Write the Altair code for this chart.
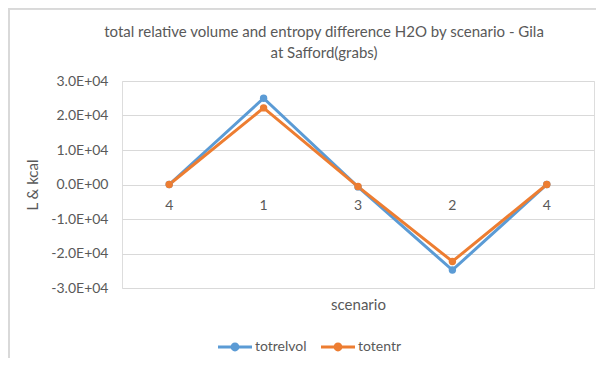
import altair as alt
import pandas as pd

# ---- data ----
scenarios = ["4", "1", "3", "2", "4"]
totrelvol = [0, 25000, -700, -24800, 0]
totentr = [0, 22200, -600, -22300, 0]
series_names = ["totrelvol", "totentr"]
series_colors = ["#5B9BD5", "#ED7D31"]
y_ticks = [-30000, -20000, -10000, 0, 10000, 20000, 30000]
title_lines = [
    "total relative volume and entropy difference H2O by scenario - Gila",
    "at Safford(grabs)",
]
y_title = "L & kcal"
x_title = "scenario"

FONT = "Lato"
TXT = "#595959"
GRID = "#D9D9D9"

rows = []
for name, vals in zip(series_names, [totrelvol, totentr]):
    for i, (s, v) in enumerate(zip(scenarios, vals)):
        rows.append({"idx": i, "scenario": s, "series": name, "value": v})
df = pd.DataFrame(rows)
cats = pd.DataFrame({"idx": list(range(len(scenarios))), "scenario": scenarios})

x_scale = alt.Scale(domain=[-0.5, len(scenarios) - 0.5], nice=False, zero=False)
x_enc = alt.X(
    "idx:Q",
    scale=x_scale,
    axis=alt.Axis(
        title=x_title, labels=False, ticks=False, domain=False, grid=False,
        titlePadding=9, titleFontSize=15, titleColor=TXT, titleFont=FONT,
        titleFontWeight="normal",
    ),
)
y_enc = alt.Y(
    "value:Q",
    scale=alt.Scale(domain=[y_ticks[0], y_ticks[-1]], nice=False),
    axis=alt.Axis(
        values=y_ticks,
        tickCount=len(y_ticks),
        labelExpr="(datum.value < 0 ? '-' : '') + format(abs(datum.value)/10000, '.1f') + 'E+' + (datum.value == 0 ? '00' : '04')",
        labelOverlap=False,
        grid=True, gridColor=GRID, gridWidth=1, domain=False, ticks=False,
        labelPadding=14, labelFontSize=14, labelColor=TXT, labelFont=FONT,
        title=y_title, titleFontSize=15, titleColor=TXT, titleFont=FONT,
        titleFontWeight="normal", titlePadding=10,
    ),
)
color_scale = alt.Scale(domain=series_names, range=series_colors)

base = alt.Chart(df)
lines = [
    base.transform_filter(alt.datum.series == name)
    .mark_line(strokeWidth=3, color=col)
    .encode(x=x_enc, y=y_enc)
    for name, col in zip(series_names, series_colors)
]

legend_symbol = (
    "M-1,-0.09 L1,-0.09 L1,0.09 L-1,0.09 Z "
    "M-0.26,0 A0.26,0.26 0 1,1 0.26,0 A0.26,0.26 0 1,1 -0.26,0 Z"
)
points = base.mark_point(filled=True, size=55, opacity=1).encode(
    x=x_enc,
    y=y_enc,
    color=alt.Color(
        "series:N",
        scale=color_scale,
        sort=series_names,
        legend=alt.Legend(
            title=None, orient="none", direction="horizontal",
            legendX=96, legendY=249,
            symbolType=legend_symbol, symbolSize=1156, symbolStrokeWidth=0,
            symbolOpacity=1, labelFontSize=14, labelColor=TXT, labelFont=FONT,
            labelOffset=3, columnPadding=14, padding=0,
        ),
    ),
    order=alt.Order("idx:Q"),
)

xlabels = alt.Chart(cats).mark_text(
    fontSize=14, color=TXT, font=FONT, dy=21, baseline="middle"
).encode(x=alt.X("idx:Q", scale=x_scale), y=alt.datum(0), text="scenario:N")

# light chart-area frame (left and top edges, as in the reference)
border_l = alt.Chart(cats).mark_rule(color=GRID, strokeWidth=1.5).encode(
    x=alt.value(-113.2), y=alt.value(-73), y2=alt.value(277)
)
border_t = alt.Chart(cats).mark_rule(color=GRID, strokeWidth=1.5).encode(
    x=alt.value(-114), x2=alt.value(474), y=alt.value(-72.2)
)

chart = (
    alt.layer(border_l, border_t, *lines, points, xlabels)
    .properties(
        width=472,
        height=207,
        autosize=alt.AutoSizeParams(type="none"),
        padding={"left": 114, "top": 73, "right": 2, "bottom": 70},
        title=alt.TitleParams(
            title_lines, fontSize=15, font=FONT, color=TXT, fontWeight="normal",
            anchor="middle", dx=-34, offset=-54, lineHeight=21,
        ),
    )
    .configure_view(stroke=None)
    .configure(font=FONT)
)

chart.save("out.html", embed_options={"renderer": "svg", "actions": False})
